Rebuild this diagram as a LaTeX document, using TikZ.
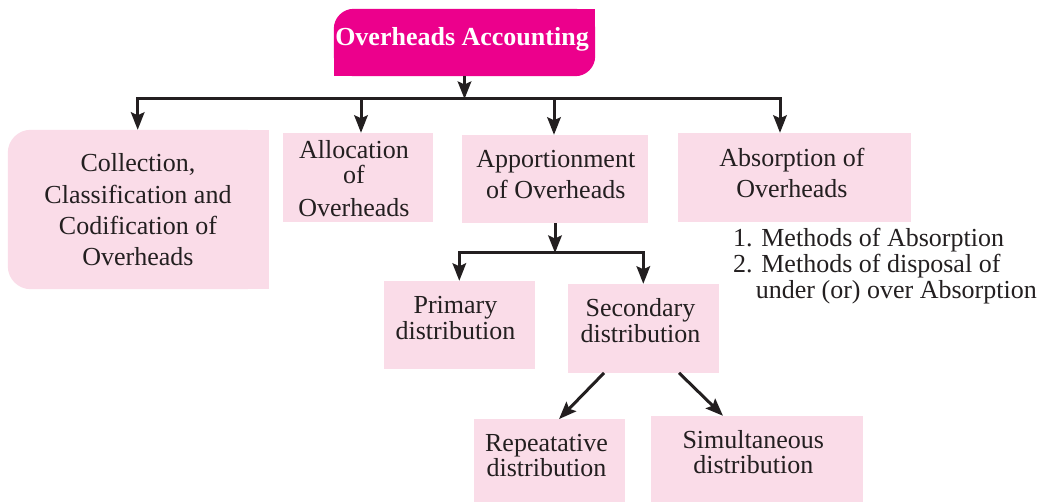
\documentclass[tikz,border=0pt]{standalone}
\usepackage{fontspec}
\setmainfont{Liberation Serif}
\usetikzlibrary{arrows.meta,calc}
\definecolor{mag}{RGB}{236,0,140}
\definecolor{pinkbox}{RGB}{250,220,232}
\definecolor{ink}{RGB}{35,31,32}
\tikzset{
  box/.style={rectangle, fill=pinkbox, inner sep=0pt, draw=none},
  shell/.style={rectangle, inner sep=0pt, draw=none},
  txt/.style={inner sep=0pt, align=center, text=ink},
  conn/.style={draw=ink, line width=3pt},
  tipA/.tip={Stealth[length=17.5pt,width=13.5pt,inset=3pt]},
  arr/.style={conn, -tipA},
  arrs/.style={conn, tipA-tipA},
}
\newcommand{\fsz}[1]{\fontsize{26}{#1}\selectfont}
\begin{document}
\begin{tikzpicture}[x=1pt,y=-1pt]
\useasboundingbox (0,0) rectangle (1047,502);
\fill[white] (0,0) rectangle (1047,502);

% title
\node[shell, minimum width=261pt, minimum height=67pt] (title) at (464.5,42.5) {};
\fill[mag, rounded corners=20pt] (title.north west) rectangle (title.south east);
\fill[mag] (title.north) rectangle (title.east);
\fill[mag] (title.west) rectangle (title.south);
\node[inner sep=0pt, anchor=base, text=white, font=\fsz{31}\bfseries] (titleT) at (462,46) {Overheads Accounting};

% collection box (rounded on the left)
\node[shell, minimum width=260.7pt, minimum height=159pt] (coll) at (138.35,209.5) {};
\fill[pinkbox, rounded corners=23pt] (coll.north west) rectangle (coll.south east);
\fill[pinkbox] (coll.north) rectangle (coll.south east);
\node[txt, font=\fsz{31.4}] (collT) at (138,209.95) {Collection,\\Classification and\\Codification of\\Overheads};

% other boxes
\node[box, minimum width=150pt, minimum height=88.7pt] (alloc) at (357.7,177.35) {};
\node[txt, font=\fsz{29.2}] (allocT) at (354,178.6) {Allocation\\[-4.2pt]of\\[4.2pt]Overheads};

\node[box, minimum width=186pt, minimum height=88.3pt] (appor) at (555,179.15) {};
\node[txt, font=\fsz{31}] (apporT) at (555.8,174.9) {Apportionment\\of Overheads};

\node[box, minimum width=232.7pt, minimum height=88.7pt] (absorb) at (794.35,177.35) {};
\node[txt, font=\fsz{31.3}] (absorbT) at (792,172.75) {Absorption of\\Overheads};

\node[txt, align=left, anchor=north west, font=\fsz{26.2}] (list) at (733,227.9) {1. Methods of Absorption\\2. Methods of disposal of\\\hspace*{22.7pt}under (or) over Absorption};

\node[box, minimum width=151pt, minimum height=88.3pt] (pri) at (459.5,325.15) {};
\node[txt, font=\fsz{25.7}] (priT) at (455.5,318.25) {Primary\\distribution};

\node[box, minimum width=150.7pt, minimum height=88.7pt] (sec) at (643.35,328.35) {};
\node[txt, font=\fsz{26}] (secT) at (640.5,320.8) {Secondary\\distribution};

\node[box, minimum width=151pt, minimum height=82.7pt] (rep) at (549.5,460.65) {};
\node[txt, font=\fsz{25}] (repT) at (546.5,455.3) {Repeatative\\distribution};

\node[box, minimum width=212pt, minimum height=86pt] (sim) at (756.7,459) {};
\node[txt, font=\fsz{25}] (simT) at (753.3,451.9) {Simultaneous\\distribution};

% connectors
\coordinate (j1) at (137.7,99);
\coordinate (j2) at (361,99);
\coordinate (j3) at (554,99);
\coordinate (j4) at (780,99);
\draw[arr] (title.south) -- (title.south |- j1);
\draw[arrs] (j1 |- coll.north) -- (j1) -- (j4) -- (j4 |- absorb.north);
\draw[arr] (j2) -- (j2 |- alloc.north);
\draw[arr] (j3) -- (j3 |- appor.north);

\coordinate (k1) at (459.3,253);
\coordinate (k2) at (643.3,253);
\draw[arr] (appor.south) -- (appor.south |- k1);
\draw[arrs] (k1 |- pri.north) -- (k1) -- (k2) -- (k2 |- sec.north);

\draw[arr] ($(sec.south)+(-39.3,0)$) -- ($(rep.north)+(9.5,0)$);
\draw[arr] ($(sec.south)+(35.7,0)$) -- ($(sim.north)+(-33.7,0)$);
\end{tikzpicture}
\end{document}
